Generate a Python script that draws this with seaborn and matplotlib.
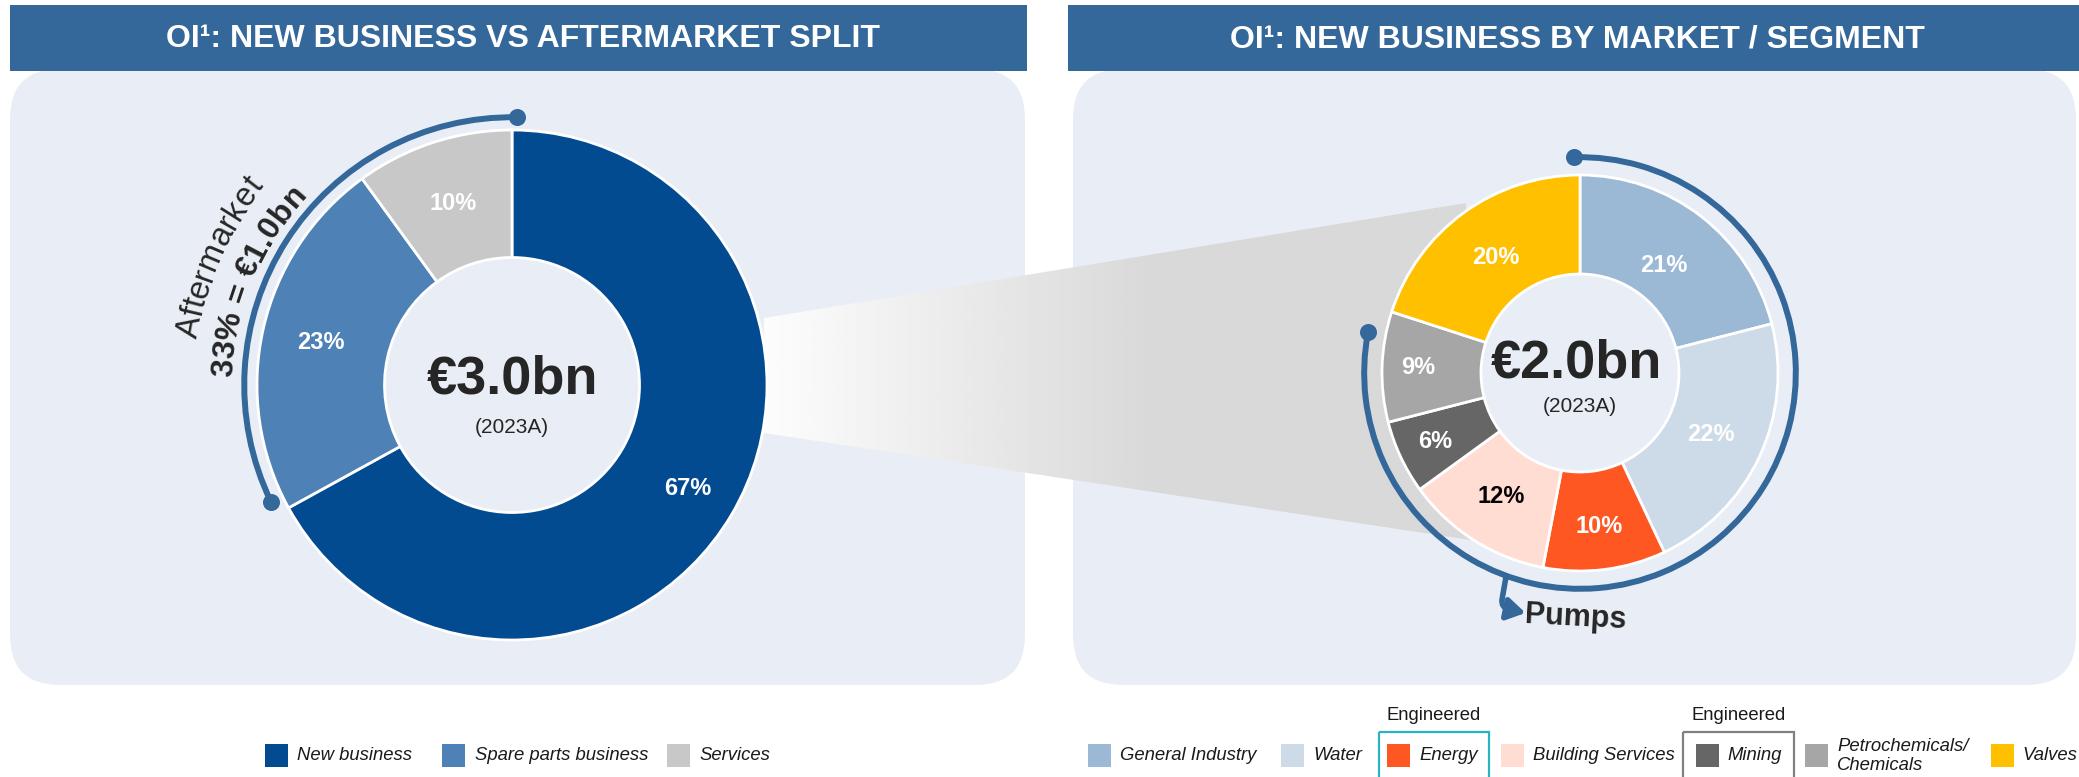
import numpy as np
import matplotlib
matplotlib.use("Agg")
import matplotlib.pyplot as plt
import seaborn as sns
from matplotlib.patches import Rectangle, FancyBboxPatch, Polygon, Arc
from matplotlib.font_manager import FontProperties
from matplotlib.textpath import TextToPath

# ---- data ----
split_labels = ["New business", "Spare parts business", "Services"]
split_share = [67, 23, 10]
split_total = "€3.0bn"

segment_labels = ["General Industry", "Water", "Energy", "Building Services",
                  "Mining", "Petrochemicals/\nChemicals", "Valves"]
segment_share = [21, 22, 10, 12, 6, 9, 20]
segment_total = "€2.0bn"

year_label = "(2023A)"
titles = ["OI¹: NEW BUSINESS VS AFTERMARKET SPLIT", "OI¹: NEW BUSINESS BY MARKET / SEGMENT"]
aftermarket_text = ["Aftermarket", "33% = €1.0bn"]
pumps_text = "Pumps"
engineered_items = ["Energy", "Mining"]

# ---- style ----
split_colors = ["#034B91", "#4E81B5", "#C8C8C8"]
segment_colors = ["#9BB8D5", "#CDDBE8", "#FF5722", "#FFDDD3", "#666666", "#A6A6A6", "#FFC000"]
segment_text_colors = ["white", "white", "white", "black", "white", "white", "white"]
bar_color = "#34679A"
panel_color = "#E9EEF6"

sns.set_theme(style="white")
plt.rcParams["font.family"] = ["Liberation Sans", "DejaVu Sans"]

W, H = 2079, 777
fig = plt.figure(figsize=(W / 100, H / 100), dpi=100, facecolor="white")

# background layer in pixel coordinates
bg = fig.add_axes([0, 0, 1, 1])
bg.set_xlim(0, W)
bg.set_ylim(H, 0)
bg.axis("off")

for x0, x1 in [(10, 1025), (1073, 2076)]:
    bg.add_patch(FancyBboxPatch((x0, 69), x1 - x0, 616, boxstyle="round,pad=0,rounding_size=50",
                                facecolor=panel_color, edgecolor="none", zorder=0))
for (x0, x1), t in zip([(10, 1027), (1068, 2079)], titles):
    bg.add_patch(Rectangle((x0, 5), x1 - x0, 66, facecolor=bar_color, edgecolor="none", zorder=2))
    bg.text((x0 + x1) / 2 + 4, 39, t, color="white", fontsize=23, fontweight="bold",
            ha="center", va="center", zorder=3)

# funnel between the two donuts
funnel = Polygon([(764, 318), (1466, 203), (1470, 540), (764, 433)], closed=True,
                 facecolor="none", edgecolor="none")
bg.add_patch(funnel)
xs = np.linspace(764, 1470, 400)
t = np.clip((xs - 764) / (1150 - 764), 0, 1)
shade = 0.99 - t * (0.99 - 0.85)
grad = np.tile(shade, (10, 1))
im = bg.imshow(grad, extent=(764, 1470, 540, 203), cmap="gray", vmin=0, vmax=1,
               aspect="auto", zorder=1, interpolation="bilinear")
im.set_clip_path(funnel)
bg.set_xlim(0, W)
bg.set_ylim(H, 0)


def donut(cx, cy, R, shares, colors, pct_r):
    side = 2.6 * R
    ax = fig.add_axes([(cx - side / 2) / W, (H - cy - side / 2) / H, side / W, side / H])
    wedges, _, autotexts = ax.pie(
        shares, colors=colors, startangle=90, counterclock=False, radius=1,
        wedgeprops=dict(width=0.5, edgecolor="white", linewidth=2),
        autopct=lambda p: f"{p:.0f}%", pctdistance=0.77,
        textprops=dict(color="white", fontsize=17, fontweight="bold"))
    for txt, r in zip(autotexts, pct_r):
        x, y = txt.get_position()
        s = r / 0.77
        txt.set_position((x * s, y * s))
    ax.set_xlim(-1.3, 1.3)
    ax.set_ylim(-1.3, 1.3)
    ax.set_aspect("equal")
    ax.axis("off")
    return ax, autotexts


def arc_with_dots(ax, r, cw_start, cw_end):
    th1, th2 = 90 - cw_end, 90 - cw_start
    ax.add_patch(Arc((0, 0), 2 * r, 2 * r, theta1=th1, theta2=th2, color=bar_color, lw=4.3))
    ends = np.radians([th1, th2])
    ax.scatter(r * np.cos(ends), r * np.sin(ends), s=150, color=bar_color, zorder=5, linewidths=0)


ttp = TextToPath()


def curved_text(ax, s, r_base, px_per_unit, cw_mid, size, weight="normal"):
    # place characters one by one along a circle, reading clockwise
    prop = FontProperties(family="Liberation Sans", size=size, weight=weight)
    ref = ttp.get_text_width_height_descent("xx", prop, ismath=False)[0]
    adv = np.array([ttp.get_text_width_height_descent("x" + c + "x", prop, ismath=False)[0] - ref
                    for c in s]) * 100 / 72
    centers = np.cumsum(adv) - adv / 2 - adv.sum() / 2
    r_px = r_base * px_per_unit
    for c, off in zip(s, centers):
        phi = cw_mid + np.degrees(off / r_px)
        th = np.radians(90 - phi)
        ax.text(r_base * np.cos(th), r_base * np.sin(th), c, fontsize=size, fontweight=weight,
                rotation=(-phi) % 360, rotation_mode="anchor", ha="center", va="baseline")


# left donut: new business vs aftermarket
axL, _ = donut(512, 385, 255, split_share, split_colors, [0.80, 0.77, 0.75])
after_start = 360 * split_share[0] / sum(split_share)
arc_with_dots(axL, 1.05, after_start + 3, 361)
axL.text(0, 0.02, split_total, fontsize=39, fontweight="bold", ha="center", va="center")
axL.text(0, -0.165, year_label, fontsize=15, ha="center", va="center")
curved_text(axL, aftermarket_text[0], 1.247, 255, 293.5, 23.5)
curved_text(axL, aftermarket_text[1], 1.096, 255, 292.3, 23, weight="bold")

# right donut: new business by segment
axR, autos = donut(1580, 373, 198, segment_share, segment_colors,
                   [0.69, 0.73, 0.78, 0.74, 0.81, 0.82, 0.72])
for txt, c in zip(autos, segment_text_colors):
    txt.set_color(c)
pumps_end = 360 * sum(segment_share[:-1]) / sum(segment_share)
arc_with_dots(axR, 1.09, -1.5, pumps_end - 7)
axR.text(-0.02, 0.05, segment_total, fontsize=39, fontweight="bold", ha="center", va="center")
axR.text(0, -0.17, year_label, fontsize=15, ha="center", va="center")
start = np.radians(90 - 200)
axR.annotate("", xy=(-0.275, -1.212), xytext=(1.09 * np.cos(start), 1.09 * np.sin(start)),
             arrowprops=dict(arrowstyle="-|>,head_length=0.9,head_width=0.55", color=bar_color,
                             lw=4, shrinkA=0, shrinkB=0,
                             connectionstyle="angle,angleA=-100,angleB=-12,rad=9"))
axR.text(-0.025, -1.237, pumps_text, fontsize=22, fontweight="bold", rotation=-3,
         ha="center", va="center")

# legends
def legend_item(xsq, xtxt, color, label):
    bg.add_patch(Rectangle((xsq, 744), 23, 23, facecolor=color, edgecolor="none"))
    bg.text(xtxt, 756, label, fontsize=13.3, style="italic", ha="left", va="center",
            color="#1a1a1a", linespacing=1.15)


for xsq, xtxt, c, lab in zip([265, 442, 667], [297, 475, 699], split_colors, split_labels):
    legend_item(xsq, xtxt, c, lab)
for xsq, xtxt, c, lab in zip([1088, 1281, 1387, 1501, 1696, 1805, 1991],
                             [1120, 1313, 1419, 1533, 1727, 1837, 2022],
                             segment_colors, segment_labels):
    legend_item(xsq, xtxt, c, lab)

for (x0, x1), ec in zip([(1379, 1489), (1683, 1794)], ["#2AB3C0", "#808080"]):
    bg.add_patch(Rectangle((x0, 732), x1 - x0, 60, facecolor="none", edgecolor=ec, lw=1.6))
    bg.text((x0 + x1) / 2, 716, "Engineered", fontsize=13.3, ha="center", va="center", color="#1a1a1a")

fig.savefig("out.png", dpi=100, facecolor="white")
